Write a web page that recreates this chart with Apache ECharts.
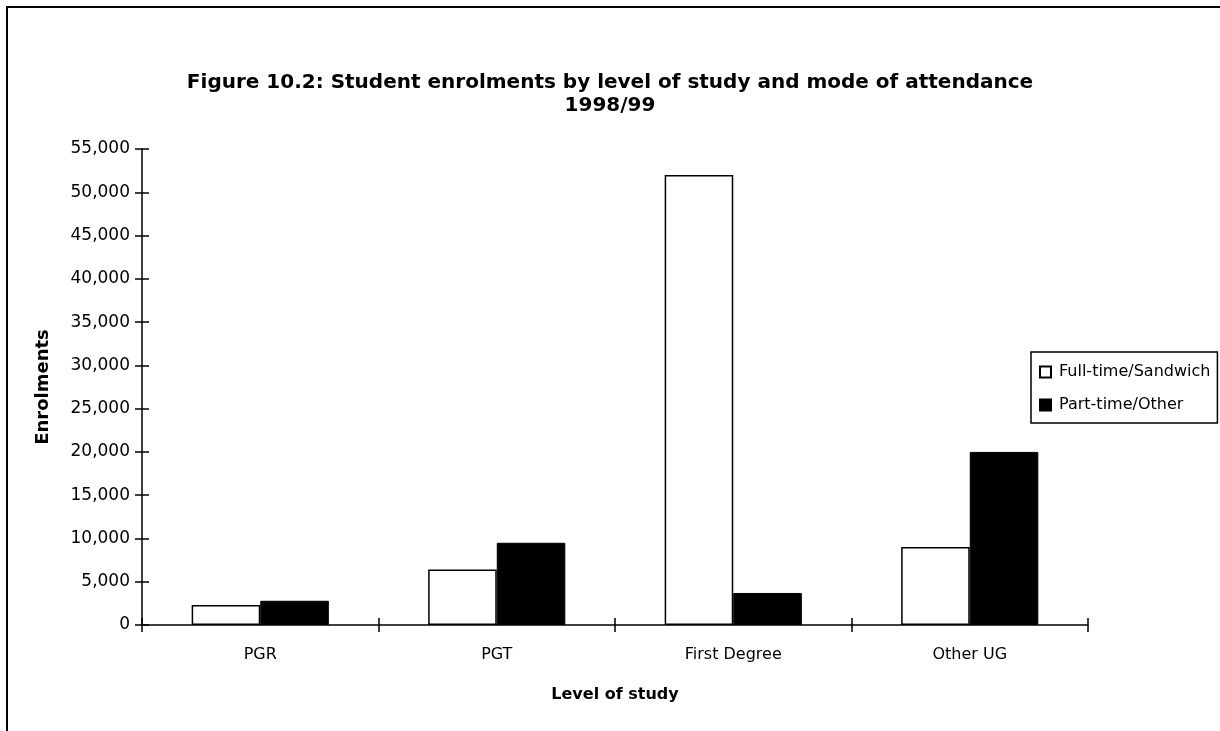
<!DOCTYPE html>
<html>
<head>
<meta charset="utf-8">
<script src="https://cdn.jsdelivr.net/npm/echarts@6/dist/echarts.min.js"></script>
<style>
html,body{margin:0;padding:0;background:#fff;}
#c{width:1220px;height:731px;}
</style>
</head>
<body>
<div id="c"></div>
<script>
const categories = ['PGR', 'PGT', 'First Degree', 'Other UG'];
const fullTime = [2300, 6400, 52000, 9000];
const partTime = [2800, 9500, 3700, 20000];
const seriesNames = ['Full-time/Sandwich', 'Part-time/Other'];
const titleLines = ['Figure 10.2: Student enrolments by level of study and mode of attendance', '1998/99'];
const yMin = 0, yMax = 55000, yStep = 5000;

const FONT = 'DejaVu Sans';
const fmt = v => Number(v).toLocaleString('en-US');
const chart = echarts.init(document.getElementById('c'), null, {renderer: 'canvas'});

chart.setOption({
  backgroundColor: '#fff',
  animation: false,
  title: {
    text: titleLines.join('\n'),
    left: 'center', top: 66,
    textStyle: {fontFamily: FONT, fontWeight: 'bold', fontSize: 20, color: '#000', lineHeight: 23}
  },
  legend: {
    orient: 'vertical',
    left: 1031, top: 352,
    padding: [12, 7, 10, 8],
    itemGap: 17,
    itemWidth: 11, itemHeight: 11,
    borderColor: '#000', borderWidth: 1.5,
    icon: 'rect',
    textStyle: {fontFamily: FONT, fontSize: 16, color: '#000', lineHeight: 16, padding: [0, 0, 0, 3]},
    data: seriesNames
  },
  grid: {left: 142, right: 132, top: 149, bottom: 106},
  xAxis: [{
    type: 'category',
    data: categories,
    name: 'Level of study',
    nameLocation: 'middle',
    nameGap: 62,
    nameTextStyle: {fontFamily: FONT, fontWeight: 'bold', fontSize: 16, color: '#000'},
    axisLine: {lineStyle: {color: '#000', width: 1.5}},
    axisTick: {show: true, length: 7, lineStyle: {color: '#000', width: 1.5}},
    axisLabel: {fontFamily: FONT, fontSize: 16, color: '#000', margin: 22}
  }, {
    type: 'category',
    data: categories,
    position: 'bottom',
    axisLine: {show: false},
    axisTick: {show: true, inside: true, length: 7, lineStyle: {color: '#000', width: 1.5}},
    axisLabel: {show: false}
  }],
  yAxis: [{
    type: 'value',
    min: yMin, max: yMax, interval: yStep,
    name: 'Enrolments',
    nameLocation: 'middle',
    nameGap: 90,
    nameTextStyle: {fontFamily: FONT, fontWeight: 'bold', fontSize: 18, color: '#000'},
    axisLine: {show: true, lineStyle: {color: '#000', width: 1.5}},
    axisTick: {show: true, length: 7, lineStyle: {color: '#000', width: 1.5}},
    axisLabel: {fontFamily: FONT, fontSize: 17, color: '#000', margin: 12, formatter: fmt},
    splitLine: {show: false}
  }, {
    type: 'value',
    min: yMin, max: yMax, interval: yStep,
    position: 'left',
    axisLine: {show: false},
    axisTick: {show: true, inside: true, length: 7, lineStyle: {color: '#000', width: 1.5}},
    axisLabel: {show: false},
    splitLine: {show: false}
  }],
  series: [{
    name: seriesNames[0],
    type: 'bar',
    data: fullTime,
    barGap: '0%',
    barCategoryGap: '42%',
    itemStyle: {color: '#fff', borderColor: '#000', borderWidth: 1.5}
  }, {
    name: seriesNames[1],
    type: 'bar',
    data: partTime,
    barGap: '0%',
    barCategoryGap: '42%',
    itemStyle: {color: '#000', borderColor: '#000', borderWidth: 1}
  }],
  graphic: [{
    type: 'rect',
    shape: {x: 7, y: 7, width: 1300, height: 800},
    style: {fill: 'none', stroke: '#000', lineWidth: 2},
    silent: true, z: 100
  }]
});
</script>
</body>
</html>
